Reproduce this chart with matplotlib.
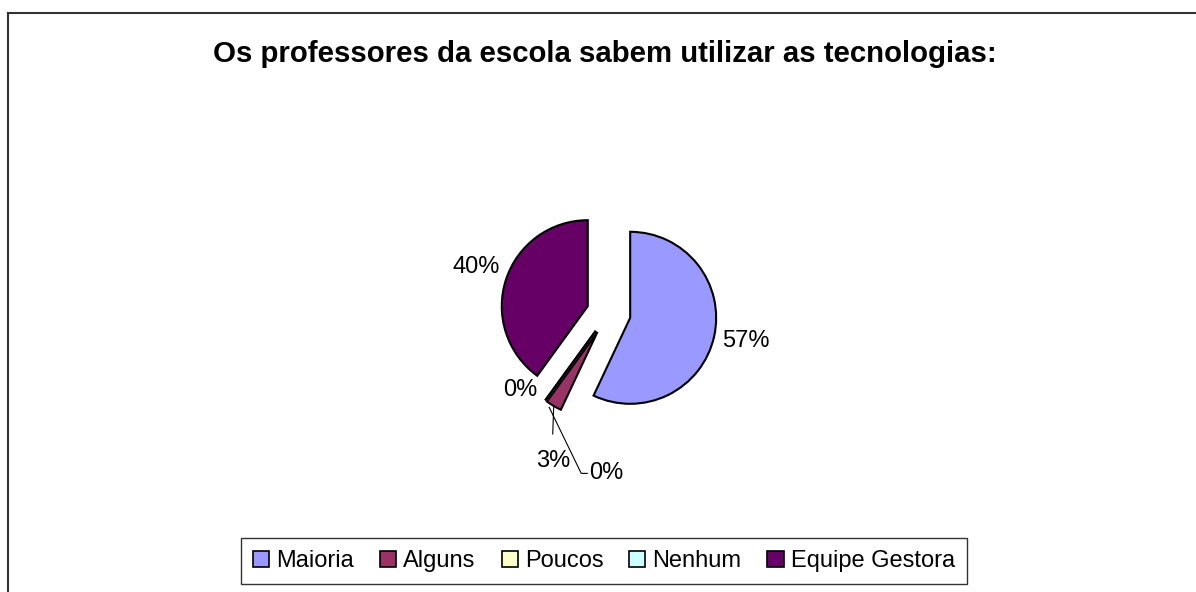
import numpy as np
import matplotlib
matplotlib.use("Agg")
import matplotlib.pyplot as plt
from matplotlib.patches import Patch
from matplotlib.lines import Line2D

plt.rcParams['font.family'] = ['Liberation Sans', 'DejaVu Sans']

title = "Os professores da escola sabem utilizar as tecnologias:"
categories = ["Maioria", "Alguns", "Poucos", "Nenhum", "Equipe Gestora"]
values = [57, 3, 0, 0, 40]
pct_labels = ["57%", "3%", "0%", "0%", "40%"]
colors = ["#9999FF", "#993366", "#FFFFCC", "#CCFFFF", "#660066"]

W, H = 1196, 592
fig = plt.figure(figsize=(W / 100, H / 100), dpi=100)
ax = fig.add_axes([0, 0, 1, 1])

R = 86.0
center = (608.7, H - 313.0)
explode = [22.0] * len(values)

wedges, _ = ax.pie(values, colors=colors, startangle=90, counterclock=False,
                   radius=R, center=center, explode=explode,
                   wedgeprops=dict(edgecolor="black", linewidth=1.5),
                   normalize=True)
ax.set_xlim(0, W)
ax.set_ylim(0, H)
ax.set_aspect("equal")
ax.axis("off")

def wedge_geom(w):
    mid = np.deg2rad((w.theta1 + w.theta2) / 2)
    cx, cy = w.center
    return mid, cx, cy

fs = 17
# Large slices: labels outside
for i, d_fac in ((0, 1.38), (4, 1.36)):
    mid, cx, cy = wedge_geom(wedges[i])
    d = R * d_fac
    ax.text(cx + d * np.cos(mid), cy + d * np.sin(mid) + 3, pct_labels[i],
            ha="center", va="center", fontsize=fs)

# Alguns (3%) with vertical leader line
mid, cx, cy = wedge_geom(wedges[1])
ox, oy = cx + R * np.cos(mid), cy + R * np.sin(mid)
ax.plot([ox, ox - 1], [oy, oy - 28], color="black", lw=0.8)
ax.text(ox - 1, oy - 55, pct_labels[1], ha="center", va="center", fontsize=fs)

# Poucos (0%) no line
mid, cx, cy = wedge_geom(wedges[2])
ox, oy = cx + R * np.cos(mid), cy + R * np.sin(mid)
ax.text(ox - 25, oy + 10, pct_labels[2], ha="center", va="center", fontsize=fs)

# Nenhum (0%) with bent leader line
mid, cx, cy = wedge_geom(wedges[3])
ox, oy = cx + R * np.cos(mid) + 4, cy + R * np.sin(mid) - 7
ax.plot([ox, ox + 32, ox + 38], [oy, oy - 66, oy - 66], color="black", lw=0.8)
ax.text(ox + 40, oy - 66, pct_labels[3], ha="left", va="center", fontsize=fs)

# Title
fig.text(605 / W, 1 - 54 / H, title, ha="center", va="center",
         fontsize=21.2, fontweight="bold")

# Border (top and left visible)
fig.add_artist(Line2D([8 / W, 8 / W], [0, 1 - 13 / H], transform=fig.transFigure,
                      color="#333333", lw=1.5))
fig.add_artist(Line2D([8 / W, 1], [1 - 13 / H, 1 - 13 / H], transform=fig.transFigure,
                      color="#333333", lw=1.5))

handles = [Patch(facecolor=c, edgecolor="black", linewidth=1.2) for c in colors]
leg = fig.legend(handles, categories, loc="center", ncol=5,
                 bbox_to_anchor=(604 / W, 1 - 561 / H), frameon=True,
                 fancybox=False, edgecolor="black", fontsize=17,
                 handlelength=0.68, handleheight=0.68, handletextpad=0.3,
                 columnspacing=1.1, borderpad=0.5, borderaxespad=0)
leg.get_frame().set_linewidth(1.0)

fig.savefig("out.png", dpi=100, facecolor="white")
